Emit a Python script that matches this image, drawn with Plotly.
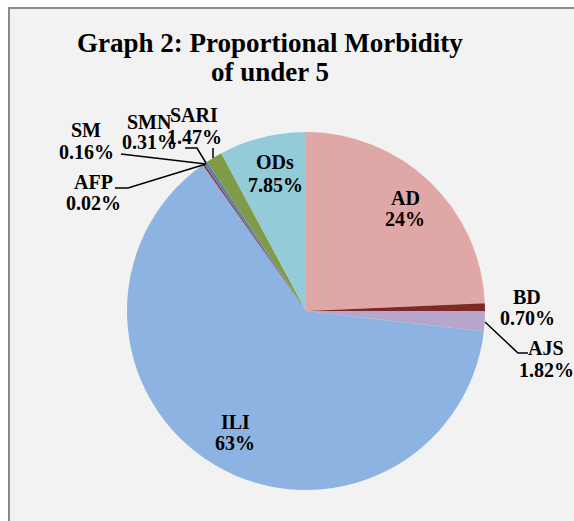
import plotly.graph_objects as go

# ---- data ----
categories = ["AD", "BD", "AJS", "ILI", "AFP", "SM", "SMN", "SARI", "ODs"]
values = [24.3, 0.70, 1.82, 63.37, 0.02, 0.16, 0.31, 1.47, 7.85]
value_labels = ["24%", "0.70%", "1.82%", "63%", "0.02%", "0.16%", "0.31%", "1.47%", "7.85%"]
colors = ["#dfa7a6", "#7b2a27", "#b7a6cb", "#8db3e2", "#4f6228", "#943634",
          "#5b7fb0", "#7f9b48", "#93cbd9"]

W, H = 574, 521


def px(x):
    return x / W


def py(y):
    return 1 - y / H


# label centres (pixels) for name line / value line
label_pos = {
    "AD": (405, 198, 219),
    "BD": (527, 297, 318),
    "AJS": (546, 348, 370),
    "ILI": (235, 422, 443),
    "AFP": (93, 182, 203),
    "SM": (86, 130, 152),
    "SMN": (149, 122, 142),
    "SARI": (194, 115, 137),
    "ODs": (275, 162, 185),
}

fig = go.Figure()
fig.add_trace(go.Pie(
    labels=categories,
    values=values,
    sort=False,
    direction="clockwise",
    rotation=0,
    marker=dict(colors=colors, line=dict(width=0)),
    textinfo="none",
    hoverinfo="label+percent",
    showlegend=False,
    domain=dict(x=[px(127), px(485)], y=[py(490), py(132)]),
))

font_family = "Liberation Serif"
annotations = []
for cat, val in zip(categories, value_labels):
    x, y1, y2 = label_pos[cat]
    for txt, yy in ((cat, y1), (val, y2)):
        annotations.append(dict(
            x=px(x), y=py(yy), xref="paper", yref="paper",
            text=f"<b>{txt}</b>", showarrow=False,
            xanchor="center", yanchor="middle",
            font=dict(family=font_family, size=20, color="#000000"),
        ))

# title
annotations.append(dict(
    x=px(270), y=py(43), xref="paper", yref="paper",
    text="<b>Graph 2: Proportional Morbidity</b>", showarrow=False,
    xanchor="center", yanchor="middle",
    font=dict(family=font_family, size=27, color="#000000"),
))
annotations.append(dict(
    x=px(270), y=py(72), xref="paper", yref="paper",
    text="<b>of under 5</b>", showarrow=False,
    xanchor="center", yanchor="middle",
    font=dict(family=font_family, size=27, color="#000000"),
))


def path(points):
    d = "M " + " L ".join(f"{px(x)},{py(y)}" for x, y in points)
    return dict(type="path", path=d, xref="paper", yref="paper",
                line=dict(color="#000000", width=1.5), layer="above")


shapes = [
    dict(type="rect", xref="paper", yref="paper",
         x0=px(9), x1=1.05, y0=-0.05, y1=py(8),
         fillcolor="#f2f2f2", line=dict(color="#8a8a8a", width=2), layer="below"),
    path([(213, 148), (213, 158)]),                 # SARI
    path([(185, 148), (197, 148), (206, 163)]),     # SMN
    path([(121, 154), (206, 164)]),                 # SM
    path([(115, 188), (128, 188), (206, 164)]),     # AFP
    path([(485, 322), (518, 353), (528, 353)]),     # AJS
]

fig.update_layout(
    width=W, height=H,
    margin=dict(l=0, r=0, t=0, b=0),
    paper_bgcolor="#ffffff",
    plot_bgcolor="#f2f2f2",
    annotations=annotations,
    shapes=shapes,
)

fig.write_html(
    "out.html",
    config={"displayModeBar": False},
    post_script="document.body.style.margin='0';document.body.style.overflow='hidden';",
)
